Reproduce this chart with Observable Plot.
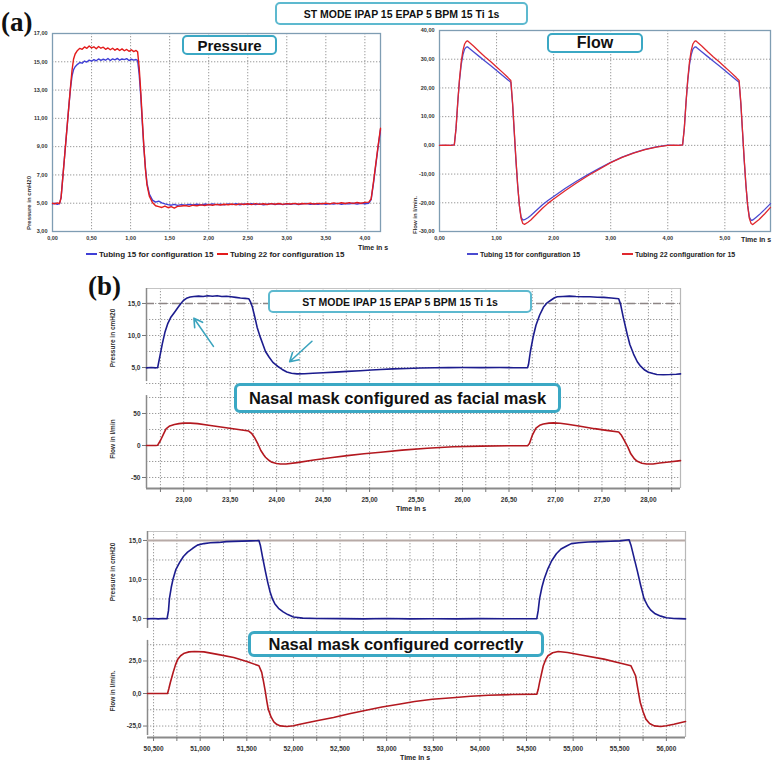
<!DOCTYPE html>
<html><head><meta charset="utf-8">
<script src="https://cdn.jsdelivr.net/npm/d3@7"></script>
<script src="https://cdn.jsdelivr.net/npm/@observablehq/plot@0.6"></script>
<style>
body{margin:0;background:#fff;}
#root{position:relative;width:773px;height:763px;overflow:hidden;font-family:"Liberation Sans",Arial,sans-serif;color:#111;}
.chart{position:absolute;}
.box{position:absolute;border:2px solid #3ba8c4;border-radius:5px;background:#fff;display:flex;align-items:center;justify-content:center;font-weight:bold;color:#111;box-sizing:border-box;white-space:nowrap;}
.panel{position:absolute;font-family:"Liberation Serif","Times New Roman",serif;font-weight:bold;font-size:27px;line-height:1;}
.txt{position:absolute;white-space:nowrap;font-weight:bold;color:#222;line-height:1;}
.rot{position:absolute;white-space:nowrap;font-weight:bold;color:#333;line-height:1;transform:translate(-50%,-50%) rotate(-90deg);}
.sw{display:inline-block;width:11px;height:0;border-top:2px solid;vertical-align:middle;margin-right:2px;position:relative;top:-1px;}
</style></head><body><div id="root"></div>
<script>
// ---------- DATA ----------
// Panel (a) pressure
const aPresTime = [0.00,0.03,0.06,0.09,0.11,0.13,0.15,0.17,0.19,0.21,0.23,0.25,0.27,0.29,
0.32,0.35,0.38,0.41,0.44,0.47,0.50,0.53,0.56,0.59,0.62,0.65,0.68,0.71,0.74,0.77,0.80,0.83,0.86,0.89,0.92,0.95,0.98,1.01,1.04,1.07,
1.09,1.11,1.13,1.15,1.17,1.19,1.21,
1.24,1.28,1.32,1.36,1.40,1.44,1.48,1.52,1.56,1.60,
1.65,1.70,1.75,1.80,1.85,1.90,1.95,2.00,2.05,2.10,2.15,2.20,2.25,2.30,2.35,2.40,2.45,2.50,2.55,2.60,2.65,2.70,2.75,2.80,2.85,2.90,2.95,3.00,3.05,3.10,3.15,3.20,3.25,3.30,3.35,3.40,3.45,3.50,3.55,3.60,3.65,3.70,3.75,3.80,3.85,3.90,3.95,4.00,4.05,
4.08,4.11,4.14,4.17,4.20];
const aPresTubing22 = [5.00,4.95,5.02,4.97,5.40,6.70,8.00,9.30,10.60,11.90,13.20,14.40,15.20,15.55,
15.80,15.95,15.88,16.05,15.95,16.12,15.98,16.06,15.92,16.08,15.96,16.03,15.88,15.98,15.85,15.96,15.82,15.93,15.80,15.91,15.78,15.87,15.74,15.85,15.72,15.80,
15.70,14.60,12.90,10.90,9.00,7.40,6.30,
5.50,5.05,4.82,4.76,4.70,4.80,4.68,4.76,4.66,4.78,
4.80,4.84,4.78,4.86,4.82,4.88,4.84,4.90,4.86,4.92,4.87,4.93,4.89,4.94,4.88,4.95,4.91,4.96,4.90,4.97,4.92,4.96,4.91,4.97,4.93,4.98,4.92,4.97,4.94,4.99,4.93,4.98,4.95,5.00,4.94,4.99,4.96,5.01,4.95,5.02,4.97,5.03,4.98,5.04,4.99,5.05,5.00,5.06,5.08,
5.30,6.50,7.80,9.10,10.30];
const aPresTubing15 = [4.95,5.00,4.92,4.98,5.40,6.70,8.00,9.30,10.60,11.90,13.10,14.00,14.45,14.65,
14.82,14.95,14.90,15.05,14.98,15.12,15.04,15.15,15.07,15.20,15.10,15.18,15.11,15.23,15.09,15.20,15.14,15.24,15.11,15.20,15.15,15.22,15.09,15.18,15.12,15.16,
15.10,14.10,12.60,10.70,8.90,7.50,6.40,
5.65,5.22,5.08,5.15,5.02,4.95,4.90,4.86,4.92,4.85,
4.90,4.86,4.92,4.87,4.93,4.88,4.94,4.89,4.95,4.90,4.93,4.88,4.95,4.90,4.96,4.89,4.94,4.91,4.96,4.90,4.95,4.88,4.93,4.97,4.91,4.95,4.90,4.96,4.92,4.97,4.91,4.95,4.99,4.92,4.96,4.93,4.98,4.92,4.97,4.94,4.99,4.93,4.98,4.95,5.00,4.94,4.99,4.96,5.00,
5.25,6.40,7.70,9.00,10.20];
const aPresXTicks = [0,0.5,1,1.5,2,2.5,3,3.5,4];
const aPresYTicks = [3,5,7,9,11,13,15,17];

// Panel (a) flow
const aFlowTime = [0,0.1,0.2,0.26,0.29,0.32,0.35,0.38,0.41,0.44,0.47,0.49,0.52,0.6,0.7,0.8,0.9,1.0,1.1,1.2,1.25,
1.28,1.31,1.34,1.37,1.40,1.43,1.46,1.49,1.55,1.6,1.7,1.8,1.9,2.0,2.2,2.4,2.6,2.8,3.0,3.2,3.4,3.6,3.8,4.0,4.1,4.2,
4.26,4.29,4.32,4.35,4.38,4.41,4.44,4.47,4.49,4.52,4.6,4.7,4.8,4.9,5.0,5.1,5.2,5.25,
5.28,5.31,5.34,5.37,5.40,5.43,5.46,5.49,5.55,5.6,5.7,5.8];
const aFlowTubing22 = [0.0,0.1,0.0,0.2,6,15,23,29,33,35.3,36.2,36.4,35.9,34.5,32.6,30.8,29.1,27.3,25.5,23.6,22.6,
15,5,-5,-14,-21,-25.5,-27.2,-27.5,-26.8,-26.0,-24.0,-22.0,-20.2,-18.7,-15.8,-13.1,-10.6,-8.3,-6.0,-4.2,-2.7,-1.5,-0.6,0.0,0.1,0.0,
0.2,6,15,23,29,33,35.3,36.2,36.4,35.9,34.5,32.6,30.8,29.1,27.3,25.5,23.6,22.6,
15,5,-5,-14,-21,-25.5,-27.2,-27.6,-26.6,-25.8,-23.8,-21.6];
const aFlowTubing15 = [0.0,0.0,0.1,0.2,6,15,22.5,28,31.5,33.5,34.2,34.3,33.8,32.5,30.9,29.3,27.7,26.1,24.4,22.8,22.0,
14.5,4.5,-5.5,-14,-21,-25,-26.0,-25.9,-25.2,-24.4,-22.6,-20.8,-19.2,-17.8,-15.0,-12.5,-10.2,-8.0,-5.9,-4.1,-2.6,-1.4,-0.5,0.1,0.0,0.1,
0.2,6,15,22.5,28,31.5,33.5,34.2,34.3,33.8,32.5,30.9,29.3,27.7,26.1,24.4,22.8,22.0,
14.5,4.5,-5.5,-14,-21,-25,-26.1,-26.0,-25.0,-24.2,-22.3,-20.3];
const aFlowXTicks = [0,1,2,3,4,5];
const aFlowYTicks = [-30,-20,-10,0,10,20,30,40];

// Panel (b) facial-mask configuration
const bTopPresTime = [22.60,22.65,22.70,22.72,22.75,22.77,22.80,22.83,22.86,22.90,22.94,22.97,23.00,23.03,23.07,23.11,23.16,23.21,23.26,23.31,23.36,23.41,23.46,23.51,23.56,23.61,23.66,23.70,23.72,23.74,23.77,23.79,23.82,23.85,23.88,23.92,23.96,24.01,24.06,24.11,24.16,24.22,24.30,24.39,24.50,24.63,24.76,24.90,25.02,25.12,25.25,25.40,25.55,25.70,25.85,26.00,26.20,26.40,26.55,26.70,26.71,26.73,26.76,26.79,26.83,26.87,26.91,26.95,26.99,27.02,27.08,27.15,27.22,27.30,27.37,27.45,27.52,27.60,27.68,27.70,27.73,27.77,27.80,27.84,27.88,27.91,27.96,28.00,28.05,28.09,28.16,28.23,28.30,28.345];
const bTopPressure = [4.95,5.00,4.95,4.98,7.20,8.70,10.60,11.90,12.80,13.60,14.40,15.00,15.50,15.80,16.00,16.10,16.15,16.08,16.20,16.12,16.22,16.08,16.14,16.04,15.95,15.86,15.80,15.75,15.20,14.40,12.60,11.30,9.90,8.70,7.50,6.60,5.80,5.20,4.70,4.30,4.10,4.00,4.02,4.10,4.18,4.28,4.40,4.50,4.60,4.70,4.78,4.85,4.92,4.97,4.98,5.00,4.98,5.00,4.97,4.98,5.50,7.50,9.80,11.60,13.20,14.40,15.10,15.50,15.90,16.05,16.10,16.15,16.08,16.05,16.06,15.98,15.95,15.85,15.75,14.90,12.80,10.30,8.60,7.10,5.90,5.30,4.60,4.27,4.05,3.90,3.88,3.90,3.95,4.00];
const bTopFlowTime = [22.60,22.70,22.72,22.75,22.78,22.81,22.85,22.90,22.95,23.00,23.07,23.15,23.25,23.40,23.55,23.70,23.73,23.76,23.80,23.83,23.86,23.88,23.92,23.95,24.00,24.04,24.10,24.22,24.40,24.58,24.76,24.94,25.12,25.35,25.62,25.90,26.20,26.50,26.70,26.72,26.75,26.79,26.83,26.87,26.93,26.98,27.05,27.13,27.25,27.42,27.55,27.68,27.71,27.74,27.78,27.81,27.85,27.88,27.93,27.98,28.05,28.12,28.22,28.345];
const bTopFlow = [0,0,0.5,7.8,17,26,30.5,32.8,34.2,35,35,34.2,32,29,25.8,22.6,19,13,2,-7.9,-14.5,-18.4,-23.5,-26.3,-28.2,-29,-28.8,-26.8,-22.6,-19.2,-15.8,-13,-10.5,-7.2,-4.2,-2,-1,-0.5,-0.3,3,15.8,27,31.6,33.6,35,35.3,34.8,33.2,30.5,26.3,23.6,21,16,7.9,-3,-13,-21,-24.7,-27.8,-29,-28.8,-27.4,-25.8,-23.7];
const bTopXDomain = [22.6, 28.345];
const bTopXTicks = [22.75,23,23.25,23.5,23.75,24,24.25,24.5,24.75,25,25.25,25.5,25.75,26,26.25,26.5,26.75,27,27.25,27.5,27.75,28,28.25];
const bTopPresDomain = [2.19, 17.34];
const bTopPresGrid = [2.5,5,7.5,10,12.5,15];
const bTopPresLabels = [5,10,15];
const bTopFlowDomain = [-67.2, 93.75];
const bTopFlowGrid = [-50,-25,0,25,50,75];
const bTopFlowLabels = [-50,0,50];
const bTarget = [15];
const bArrowX1 = [23.32, 24.38], bArrowY1 = [8.3, 9.1], bArrowX2 = [23.11, 24.14], bArrowY2 = [12.7, 5.9];

// Panel (b) correct configuration
const bBotPresTime = [50.435,50.50,50.55,50.60,50.645,50.66,50.67,50.69,50.71,50.74,50.78,50.82,50.865,50.92,50.97,51.04,51.11,51.20,51.28,51.36,51.45,51.54,51.60,51.63,51.645,51.67,51.70,51.725,51.75,51.775,51.80,51.84,51.89,51.94,52.00,52.10,52.25,52.50,52.75,53.00,53.25,53.50,53.75,54.00,54.25,54.50,54.61,54.625,54.64,54.665,54.69,54.73,54.77,54.82,54.87,54.93,54.98,55.06,55.16,55.28,55.40,55.50,55.60,55.62,55.655,55.69,55.725,55.76,55.80,55.83,55.88,55.94,56.00,56.08,56.14,56.205];
const bBotPressure = [4.95,5.00,4.95,5.00,4.97,6.00,7.55,9.00,10.10,11.30,12.20,12.95,13.50,14.00,14.40,14.60,14.70,14.75,14.85,14.88,14.92,14.95,14.97,15.00,14.40,12.80,11.00,9.60,8.40,7.50,6.90,6.30,5.85,5.50,5.20,5.05,5.00,4.98,4.95,5.00,4.95,4.97,4.95,4.98,4.96,4.97,4.98,6.00,7.55,9.00,10.10,11.40,12.40,13.30,13.90,14.30,14.60,14.70,14.80,14.85,14.90,14.95,15.10,14.40,12.70,11.00,9.20,7.55,6.60,6.10,5.60,5.30,5.10,5.00,4.98,4.95];
const bBotFlowTime = [50.435,50.55,50.65,50.665,50.68,50.71,50.735,50.76,50.79,50.83,50.88,50.94,51.04,51.20,51.36,51.50,51.63,51.66,51.68,51.70,51.715,51.73,51.76,51.79,51.82,51.86,51.93,52.00,52.07,52.25,52.43,52.60,52.78,52.95,53.13,53.30,53.49,53.74,53.90,54.09,54.35,54.61,54.625,54.64,54.66,54.68,54.705,54.73,54.78,54.84,54.94,55.10,55.33,55.50,55.62,55.645,55.67,55.695,55.72,55.75,55.78,55.82,55.87,55.94,56.00,56.08,56.205];
const bBotFlow = [0,0,0,4,8.5,16.2,22,26.4,29,31,32,32.3,32,29.9,27.7,24.6,21.3,16.2,9,0.8,-6,-12,-18,-21.8,-23.7,-24.9,-25.4,-24.8,-23.6,-21,-18.5,-15.6,-12.8,-10.4,-8.2,-6.2,-4.4,-3.1,-2.1,-1.3,-0.8,-0.5,3,8.5,15,21.3,26,29,31.3,32.3,31.5,29.4,26.4,23.5,21.3,17.5,13.6,3,-6.9,-14,-19.7,-23,-24.9,-25.4,-24.8,-23.6,-21.5];
const bBotXDomain = [50.435, 56.205];
const bBotXTicks = [50.5,50.75,51,51.25,51.5,51.75,52,52.25,52.5,52.75,53,53.25,53.5,53.75,54,54.25,54.5,54.75,55,55.25,55.5,55.75,56];
const bBotPresDomain = [2.69, 16.15];
const bBotPresGrid = [5,7.5,10,12.5,15];
const bBotPresLabels = [5,10,15];
const bBotFlowDomain = [-33.8, 43.8];
const bBotFlowGrid = [-25,-12.5,0,12.5,25,37.5];
const bBotFlowLabels = [-25,0,25];

// ---------- DRAWING ----------
const root = document.getElementById("root");
const comma = (d, n) => d.toFixed(n).replace(".", ",");
const isHalf = d => Math.abs(d * 2 - Math.round(d * 2)) < 1e-6;
function place(el, left, top) { el.classList.add("chart"); el.style.left = left + "px"; el.style.top = top + "px"; root.appendChild(el); return el; }
function html(cls, left, top, text, css) {
  const d = document.createElement("div"); d.className = cls; d.style.left = left + "px"; d.style.top = top + "px";
  d.textContent = text; if (css) Object.assign(d.style, css); root.appendChild(d); return d;
}
const baseStyle = (fs) => ({background: "transparent", fontFamily: "'Liberation Sans', Arial, sans-serif", fontSize: fs + "px", color: "#333", overflow: "visible"});
const dotGrid = {stroke: "#7a7a7a", strokeOpacity: 0.85, strokeDasharray: "1.3,1.7", strokeWidth: 0.9};
const rows = (t, v) => v.map((y, i) => ({t: t[i], y}));

// (a) Pressure
place(Plot.plot({
  width: 390, height: 262, marginLeft: 52, marginRight: 10, marginTop: 33, marginBottom: 31,
  x: {domain: [0, 4.2]}, y: {domain: [3, 17]}, style: baseStyle(5.5),
  marks: [
    Plot.gridX(aPresXTicks, dotGrid),
    Plot.gridY(aPresYTicks, dotGrid),
    Plot.frame({stroke: "#7f9db3", strokeWidth: 1.3}),
    Plot.axisX(aPresXTicks, {tickSize: 0, tickPadding: 5, tickFormat: d => comma(d, 2), fontWeight: "bold", label: null}),
    Plot.axisY(aPresYTicks, {tickSize: 0, tickPadding: 5, tickFormat: d => comma(d, 2), fontWeight: "bold", label: null}),
    Plot.line(rows(aPresTime, aPresTubing15), {x: "t", y: "y", stroke: "#3f3fd6", strokeWidth: 1.4}),
    Plot.line(rows(aPresTime, aPresTubing22), {x: "t", y: "y", stroke: "#e31b1b", strokeWidth: 1.4})
  ]
}), 0, 0);

// (a) Flow
place(Plot.plot({
  width: 383, height: 262, marginLeft: 49, marginRight: 3, marginTop: 30, marginBottom: 31,
  x: {domain: [0, 5.8]}, y: {domain: [-30, 40]}, style: baseStyle(5.5),
  marks: [
    Plot.gridX(aFlowXTicks, dotGrid),
    Plot.gridY(aFlowYTicks, dotGrid),
    Plot.frame({stroke: "#7f9db3", strokeWidth: 1.3}),
    Plot.axisX(aFlowXTicks, {tickSize: 0, tickPadding: 5, tickFormat: d => comma(d, 2), fontWeight: "bold", label: null}),
    Plot.axisY(aFlowYTicks, {tickSize: 0, tickPadding: 5, tickFormat: d => comma(d, 2), fontWeight: "bold", label: null}),
    Plot.line(rows(aFlowTime, aFlowTubing15), {x: "t", y: "y", stroke: "#4a4ad0", strokeWidth: 1.3}),
    Plot.line(rows(aFlowTime, aFlowTubing22), {x: "t", y: "y", stroke: "#e0282e", strokeWidth: 1.3})
  ]
}), 390, 0);

// (b) helper for a pressure + flow pair
function bPair(cfg) {
  const {left, width, mL, mR, xDomain, xTicks, presTop, presH, presMT, presDomain, presGrid, presLabels, presAxis,
         flowTop, flowH, flowMB, flowDomain, flowGrid, flowLabels, flowAxis, pres, flow, target, targetStyle, xFmt, yFmtP, yFmtF, extra} = cfg;
  place(Plot.plot({
    width, height: presH, marginLeft: mL, marginRight: mR, marginTop: presMT, marginBottom: 0,
    x: {domain: xDomain, axis: null}, y: {domain: presDomain}, style: baseStyle(6.5),
    marks: [
      Plot.gridX(xTicks, dotGrid),
      Plot.gridY(presGrid, dotGrid),
      Plot.ruleY([presDomain[1]], {stroke: "#c4c4c4", strokeWidth: 1}),
      Plot.ruleX([xDomain[1]], {stroke: "#b8b8b8", strokeWidth: 1.2}),
      Plot.ruleX([xDomain[0]], {y1: presAxis[0], y2: presAxis[1], stroke: "#8a8a8a", strokeWidth: 1.5}),
      Plot.ruleY(target, targetStyle),
      Plot.axisY(presLabels, {tickSize: 4, tickPadding: 2, tickFormat: yFmtP, fontWeight: "bold", stroke: "#777", label: null}),
      Plot.line(pres, {x: "t", y: "y", stroke: "#1c1c8e", strokeWidth: 1.6}),
      ...(extra || [])
    ]
  }), left, presTop);
  place(Plot.plot({
    width, height: flowH, marginLeft: mL, marginRight: mR, marginTop: 0, marginBottom: flowMB,
    x: {domain: xDomain}, y: {domain: flowDomain}, style: baseStyle(6.5),
    marks: [
      Plot.gridX(xTicks, dotGrid),
      Plot.gridY(flowGrid, dotGrid),
      Plot.ruleX([xDomain[1]], {stroke: "#b8b8b8", strokeWidth: 1.2}),
      Plot.ruleX([xDomain[0]], {y1: flowAxis[0], y2: flowAxis[1], stroke: "#8a8a8a", strokeWidth: 1.5}),
      Plot.ruleY([flowDomain[0]], {stroke: "#8a8a8a", strokeWidth: 2}),
      Plot.axisY(flowLabels, {tickSize: 4, tickPadding: 2, tickFormat: yFmtF, fontWeight: "bold", stroke: "#777", label: null}),
      Plot.axisX(xTicks, {tickSize: 4, tickPadding: 5, tickFormat: d => isHalf(d) ? xFmt(d) : "", fontWeight: "bold", stroke: "#777", label: null}),
      Plot.line(flow, {x: "t", y: "y", stroke: "#b3181f", strokeWidth: 1.6})
    ]
  }), left, flowTop);
}

const arrows = bArrowX1.map((x1, i) => ({x1, y1: bArrowY1[i], x2: bArrowX2[i], y2: bArrowY2[i]}));
bPair({
  left: 90, width: 600, mL: 56, mR: 10, xDomain: bTopXDomain, xTicks: bTopXTicks,
  presTop: 280, presH: 105, presMT: 8, presDomain: bTopPresDomain, presGrid: bTopPresGrid, presLabels: bTopPresLabels, presAxis: [2.8, bTopPresDomain[1]],
  flowTop: 385, flowH: 127, flowMB: 24, flowDomain: bTopFlowDomain, flowGrid: bTopFlowGrid, flowLabels: bTopFlowLabels, flowAxis: [bTopFlowDomain[0], 78],
  pres: rows(bTopPresTime, bTopPressure), flow: rows(bTopFlowTime, bTopFlow), target: bTarget,
  targetStyle: {stroke: "#8d8585", strokeWidth: 1.4, strokeDasharray: "8,5"},
  xFmt: d => comma(d, 2), yFmtP: d => comma(d, 1), yFmtF: d => String(d),
  extra: [Plot.arrow(arrows, {x1: "x1", y1: "y1", x2: "x2", y2: "y2", stroke: "#3aa3bd", strokeWidth: 1.6, headLength: 9})]
});
bPair({
  left: 90, width: 605, mL: 57, mR: 10, xDomain: bBotXDomain, xTicks: bBotXTicks,
  presTop: 523, presH: 113, presMT: 8, presDomain: bBotPresDomain, presGrid: bBotPresGrid, presLabels: bBotPresLabels, presAxis: [3.72, bBotPresDomain[1]],
  flowTop: 636, flowH: 127, flowMB: 26, flowDomain: bBotFlowDomain, flowGrid: bBotFlowGrid, flowLabels: bBotFlowLabels, flowAxis: [-32.3, 40.8],
  pres: rows(bBotPresTime, bBotPressure), flow: rows(bBotFlowTime, bBotFlow), target: bTarget,
  targetStyle: {stroke: "#b7aaa6", strokeWidth: 2},
  xFmt: d => comma(d, 3), yFmtP: d => comma(d, 1), yFmtF: d => comma(d, 1)
});

// ---------- TEXT ----------
html("panel", 1, 9, "(a)");
html("panel", 88, 273, "(b)");
html("box", 275, 2, "ST MODE IPAP 15 EPAP 5 BPM 15 Ti 1s", {width: "253px", height: "23px", fontSize: "10.5px", borderColor: "#5db9cf"});
html("box", 182, 35, "Pressure", {width: "95px", height: "20px", fontSize: "15px"});
html("box", 547, 33, "Flow", {width: "96px", height: "20px", fontSize: "16px"});
html("box", 268, 290, "ST MODE IPAP 15 EPAP 5 BPM 15 Ti 1s", {width: "264px", height: "23px", fontSize: "10.5px", borderColor: "#5db9cf"});
html("box", 234, 383, "Nasal mask configured as facial mask", {width: "327px", height: "30px", fontSize: "16.5px", borderWidth: "3.5px", borderRadius: "6px"});
html("box", 248, 631, "Nasal mask configured correctly", {width: "296px", height: "26px", fontSize: "16.5px", borderWidth: "3.5px", borderRadius: "6px"});

// legends (a)
function legend(left, top, color, text, fs) {
  const d = document.createElement("div"); d.className = "txt"; d.style.left = left + "px"; d.style.top = top + "px"; d.style.fontSize = fs + "px";
  const s = document.createElement("span"); s.className = "sw"; s.style.borderColor = color; d.appendChild(s);
  d.appendChild(document.createTextNode(text)); root.appendChild(d);
}
legend(86, 251, "#3f3fd6", "Tubing 15 for configuration 15", 8);
legend(217, 251, "#e31b1b", "Tubing 22 for configuration 15", 8);
legend(467, 251, "#4a4ad0", "Tubing 15 for configuration 15", 7);
legend(622, 251, "#e0282e", "Tubing 22 configuration  for 15", 7);

html("txt", 358, 244, "Time in s", {fontSize: "7px"});
html("txt", 741, 236, "Time in s", {fontSize: "7px"});
html("txt", 396, 505, "Time in s", {fontSize: "7px"});
html("txt", 400, 754, "Time in s", {fontSize: "7px"});

html("rot", 29, 203, "Pressure in cmH20", {fontSize: "6px"});
html("rot", 415, 215, "Flow in  l/min.", {fontSize: "6px"});
html("rot", 113, 338, "Pressure in cmH20", {fontSize: "6.5px"});
html("rot", 113, 439, "Flow in l/min", {fontSize: "6.5px"});
html("rot", 113, 572, "Pressure in cmH20", {fontSize: "6.5px"});
html("rot", 113, 691, "Flow in l/min.", {fontSize: "6.5px"});
</script></body></html>
